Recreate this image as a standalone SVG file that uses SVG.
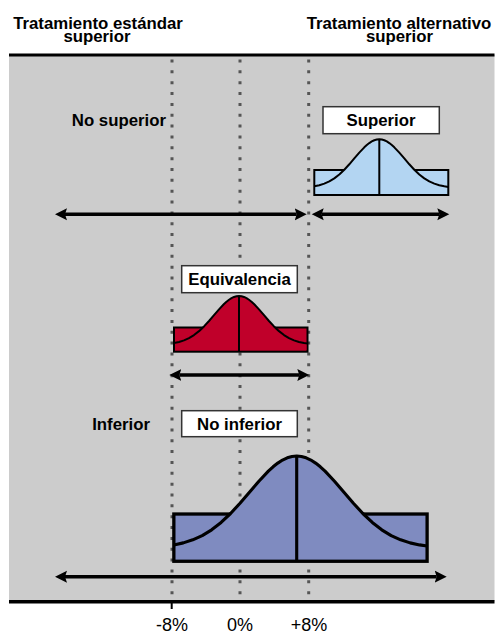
<svg xmlns="http://www.w3.org/2000/svg" width="496" height="633" viewBox="0 0 496 633">
<style>
.t{font-family:"Liberation Sans",Arial,sans-serif;font-weight:bold;font-size:16.8px;fill:#000}
.n{font-family:"Liberation Sans",Arial,sans-serif;font-size:18px;fill:#000}
.dot{stroke:#555;stroke-width:3;stroke-dasharray:3 7.85;fill:none}
.lbl{fill:#fff;stroke:#333;stroke-width:1.5}
.arr{stroke:#000;stroke-width:3.5;fill:none;marker-start:url(#ah);marker-end:url(#ah)}
.curve{fill:none;stroke:#000;stroke-linejoin:round}
</style>
<defs>
<marker id="ah" markerUnits="userSpaceOnUse" markerWidth="14" markerHeight="14" refX="2" refY="6" orient="auto-start-reverse" viewBox="0 0 14 12">
<path d="M0,0 L12,6 L0,12 L2,6 Z" fill="#000"/>
</marker>
<path id="bellline" d="M-65,47.04 L-60,45.97 L-55,44.37 L-50,42.11 L-45,39.06 L-40,35.16 L-35,30.42 L-30,24.99 L-25,19.16 L-20,13.34 L-15,8.02 L-12.5,5.72 L-10,3.745 L-7.5,2.14 L-5,0.964 L-2.5,0.243 L0,0 L2.5,0.243 L5,0.964 L7.5,2.14 L10,3.745 L12.5,5.72 L15,8.02 L20,13.34 L25,19.16 L30,24.99 L35,30.42 L40,35.16 L45,39.06 L50,42.11 L55,44.37 L60,45.97 L65,47.04 L69,47.62"/>
<path id="bellfill" d="M-63.5,46.7 L-60,45.97 L-55,44.37 L-50,42.11 L-45,39.06 L-40,35.16 L-35,30.42 L-30,24.99 L-25,19.16 L-20,13.34 L-15,8.02 L-12.5,5.72 L-10,3.745 L-7.5,2.14 L-5,0.964 L-2.5,0.243 L0,0 L2.5,0.243 L5,0.964 L7.5,2.14 L10,3.745 L12.5,5.72 L15,8.02 L20,13.34 L25,19.16 L30,24.99 L35,30.42 L40,35.16 L45,39.06 L50,42.11 L55,44.37 L60,45.97 L65,47.04 L67.5,47.4 L67.5,54 L-63.5,54 Z"/>
</defs>

<g id="background">
<rect x="9" y="55" width="485.5" height="546.5" fill="#cccccc"/>
<rect x="9" y="53.5" width="485.5" height="3" fill="#000"/>
<rect x="9" y="600" width="485.5" height="3.5" fill="#000"/>
<rect x="170.7" y="603" width="2" height="6" fill="#000"/>
</g>

<g id="guides">
<line class="dot" x1="172" y1="59.5" x2="172" y2="600"/>
<line class="dot" x1="240" y1="59.5" x2="240" y2="600"/>
<line class="dot" x1="308.7" y1="59.5" x2="308.7" y2="600"/>
</g>

<g id="titles">
<text class="t" x="98" y="28.5" text-anchor="middle">Tratamiento estándar</text>
<text class="t" x="97" y="42" text-anchor="middle">superior</text>
<text class="t" x="399" y="28.5" text-anchor="middle">Tratamiento alternativo</text>
<text class="t" x="399.5" y="42" text-anchor="middle">superior</text>
<text class="t" x="166" y="125.7" text-anchor="end">No superior</text>
<text class="t" x="150" y="430" text-anchor="end">Inferior</text>
</g>

<g id="superior">
<rect class="lbl" x="323" y="106.7" width="116.3" height="27"/>
<text class="t" x="381" y="126" text-anchor="middle">Superior</text>
<g transform="translate(379.3,139.3)">
<rect x="-65" y="30.7" width="134" height="25" fill="#b3d5f2" stroke="#000" stroke-width="2"/>
<use href="#bellfill" fill="#b3d5f2"/>
<use href="#bellline" class="curve" stroke-width="2"/>
<line x1="0" y1="0" x2="0" y2="55.7" stroke="#000" stroke-width="2"/>
</g>
</g>

<g id="equivalencia">
<rect class="lbl" x="181.7" y="265.7" width="115.6" height="27"/>
<text class="t" x="239.5" y="285" text-anchor="middle">Equivalencia</text>
<g transform="translate(239,296)">
<rect x="-65" y="31.5" width="133.5" height="24.2" fill="#c0002a" stroke="#000" stroke-width="2"/>
<use href="#bellfill" fill="#c0002a"/>
<use href="#bellline" class="curve" stroke-width="2"/>
<line x1="0" y1="0" x2="0" y2="55.7" stroke="#000" stroke-width="2"/>
</g>
</g>

<g id="noinferior">
<rect class="lbl" x="181.7" y="410.7" width="115.6" height="26"/>
<text class="t" x="239.5" y="430" text-anchor="middle">No inferior</text>
<g transform="translate(296.7,456) scale(1.89)">
<rect x="-65" y="30.7" width="134" height="25" fill="#7f8bc0" stroke="#000" stroke-width="1.75"/>
<use href="#bellfill" fill="#7f8bc0"/>
<use href="#bellline" class="curve" stroke-width="1.65"/>
<line x1="0" y1="0" x2="0" y2="55.7" stroke="#000" stroke-width="1.65"/>
</g>
</g>

<g id="connectors">
<line class="arr" x1="65" y1="214.3" x2="296.7" y2="214.3"/>
<line class="arr" x1="321.7" y1="214.3" x2="439.3" y2="214.3"/>
<line class="arr" x1="179.3" y1="375" x2="299.3" y2="375"/>
<line class="arr" x1="65" y1="576.7" x2="436.7" y2="576.7"/>
</g>

<g id="axis">
<text class="n" x="172" y="631" text-anchor="middle">-8%</text>
<text class="n" x="240" y="631" text-anchor="middle">0%</text>
<text class="n" x="309" y="631" text-anchor="middle">+8%</text>
</g>
</svg>
